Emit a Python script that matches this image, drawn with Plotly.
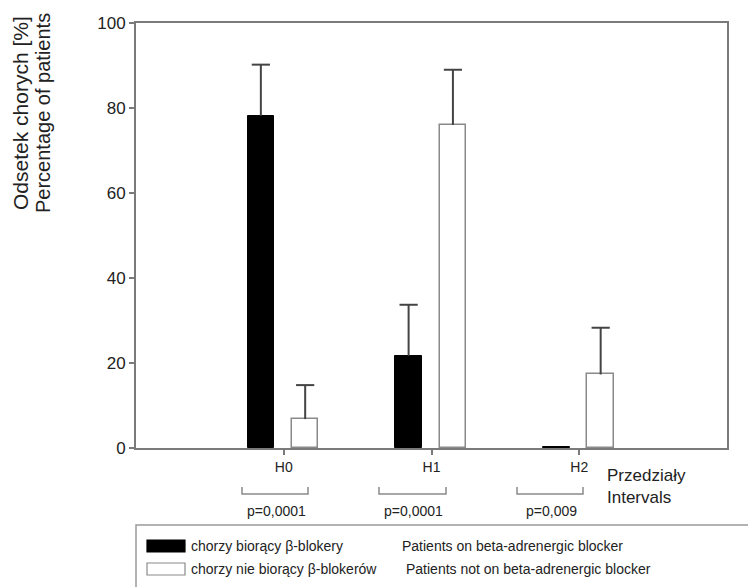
import plotly.graph_objects as go

# ---- data ----
categories = ["H0", "H1", "H2"]
cat_pos = [0, 1, 2]
on_blocker = [78.2, 21.7, 0.3]
on_blocker_err = [12.0, 12.0, 0.0]
not_on_blocker = [6.8, 76.0, 17.3]
not_on_blocker_err = [8.0, 13.0, 11.0]
p_values = ["p=0,0001", "p=0,0001", "p=0,009"]
y_ticks = [0, 20, 40, 60, 80, 100]
legend_pl = ["chorzy biorący β-blokery", "chorzy nie biorący β-blokerów"]
legend_en = ["Patients on beta-adrenergic blocker", "Patients not on beta-adrenergic blocker"]

W, H = 748, 587
L, R, T, B = 136, 727, 23, 448  # plot area in px
FONT = "Arial, Liberation Sans, sans-serif"
BAR_W = 0.18
OFFSETS = [-0.245, 0.055]


def px(xp):
    return (xp - L) / (R - L)


def py(yp):
    return (B - yp) / (B - T)


fig = go.Figure()
series = [
    (on_blocker, on_blocker_err, "black", "black", 1),
    (not_on_blocker, not_on_blocker_err, "white", "#8a8a8a", 1.5),
]
for (vals, errs, fc, lc, lw), off in zip(series, OFFSETS):
    fig.add_trace(go.Bar(
        x=cat_pos, y=vals, offset=off, width=BAR_W,
        marker=dict(color=fc, line=dict(color=lc, width=lw)),
        showlegend=False, hoverinfo="skip",
    ))
for (vals, errs, fc, lc, lw), off in zip(series, OFFSETS):
    pts = [(c + off + BAR_W / 2, v, e) for c, v, e in zip(cat_pos, vals, errs) if e > 0]
    fig.add_trace(go.Scatter(
        x=[p[0] for p in pts], y=[p[1] + p[2] for p in pts], mode="markers",
        marker=dict(symbol="line-ew", size=13, color="#444", line=dict(color="#444", width=2)),
        error_y=dict(type="data", symmetric=False, array=[0] * len(pts),
                     arrayminus=[p[2] for p in pts], color="#444", thickness=2, width=0),
        showlegend=False, hoverinfo="skip",
    ))

axis_common = dict(showline=True, mirror=True, linecolor="#7a7a7a", linewidth=2,
                   ticks="outside", ticklen=5, tickwidth=1.5, tickcolor="#7a7a7a",
                   showgrid=False, zeroline=False)
fig.update_xaxes(range=[-1, 3], tickvals=cat_pos, ticktext=categories,
                 tickfont=dict(family=FONT, size=14, color="#222"), **axis_common)
fig.update_yaxes(range=[0, 100], tickvals=y_ticks,
                 tickfont=dict(family=FONT, size=17, color="#222"), **axis_common)

shapes = []
annotations = []
brackets = [(242, 308), (379, 446), (517, 583)]
for (x0, x1), p in zip(brackets, p_values):
    shapes.append(dict(type="path", xref="paper", yref="paper",
                       path=f"M {px(x0)} {py(487)} L {px(x0)} {py(494)} L {px(x1)} {py(494)} L {px(x1)} {py(487)}",
                       line=dict(color="#8a8a8a", width=1.5)))
    annotations.append(dict(x=px((x0 + x1) / 2 + 1), y=py(511), xref="paper", yref="paper",
                            text=p, showarrow=False, xanchor="center", yanchor="middle",
                            font=dict(family=FONT, size=14, color="#222")))

annotations.append(dict(x=px(605), y=py(475), xref="paper", yref="paper", text="Przedziały",
                        showarrow=False, xanchor="left", yanchor="middle",
                        font=dict(family=FONT, size=17, color="#222")))
annotations.append(dict(x=px(605), y=py(497), xref="paper", yref="paper", text="Intervals",
                        showarrow=False, xanchor="left", yanchor="middle",
                        font=dict(family=FONT, size=17, color="#222")))

# y-axis titles
annotations.append(dict(x=px(20), y=py(113), xref="paper", yref="paper", text="Odsetek chorych [%]",
                        showarrow=False, textangle=-90, xanchor="center", yanchor="middle",
                        font=dict(family=FONT, size=21, color="#222")))
annotations.append(dict(x=px(43), y=py(113), xref="paper", yref="paper", text="Percentage of patients",
                        showarrow=False, textangle=-90, xanchor="center", yanchor="middle",
                        font=dict(family=FONT, size=20, color="#222")))

# legend box
shapes.append(dict(type="rect", xref="paper", yref="paper",
                   x0=px(136), x1=px(770), y0=py(525), y1=py(610),
                   line=dict(color="#9a9a9a", width=1.5), fillcolor="rgba(0,0,0,0)"))
patch_rows = [(540, 552, "black", "black"), (563, 575, "white", "#8a8a8a")]
for (y0, y1, fc, lc), tpl, ten in zip(patch_rows, legend_pl, legend_en):
    shapes.append(dict(type="rect", xref="paper", yref="paper",
                       x0=px(147), x1=px(185), y0=py(y1), y1=py(y0),
                       line=dict(color=lc, width=1.2), fillcolor=fc))
    yc = (y0 + y1) / 2
    annotations.append(dict(x=px(189), y=py(yc), xref="paper", yref="paper", text=tpl,
                            showarrow=False, xanchor="left", yanchor="middle",
                            font=dict(family=FONT, size=14, color="#222")))
    annotations.append(dict(x=px(400 if fc == "black" else 404), y=py(yc), xref="paper", yref="paper",
                            text=ten, showarrow=False, xanchor="left", yanchor="middle",
                            font=dict(family=FONT, size=14, color="#222")))

fig.update_layout(
    width=W, height=H,
    margin=dict(l=L, r=W - R, t=T, b=H - B),
    plot_bgcolor="white", paper_bgcolor="white",
    shapes=shapes, annotations=annotations,
    bargap=0, showlegend=False,
)

fig.write_html("out.html")
